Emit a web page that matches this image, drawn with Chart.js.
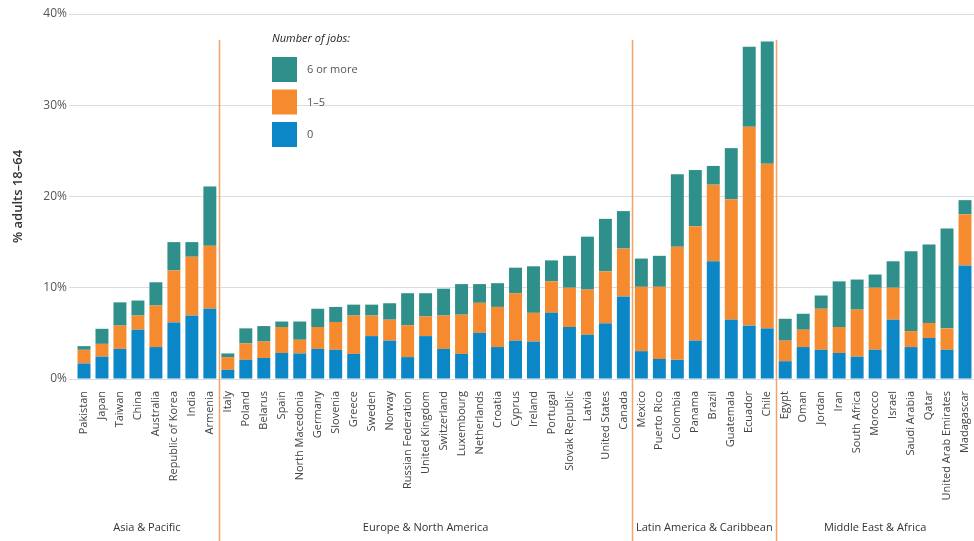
<!DOCTYPE html>
<html>
<head>
<meta charset="utf-8">
<script src="https://cdn.jsdelivr.net/npm/chart.js@4"></script>
<style>
  html, body { margin: 0; padding: 0; background: #fff; }
  #wrap { width: 974px; height: 541px; position: relative; }
</style>
</head>
<body>
<div id="wrap"><canvas id="jobsChart"></canvas></div>
<script>
const countries = [
  "Pakistan", "Japan", "Taiwan", "China", "Australia", "Republic of Korea", "India", "Armenia",
  "Italy", "Poland", "Belarus", "Spain", "North Macedonia", "Germany", "Slovenia", "Greece",
  "Sweden", "Norway", "Russian Federation", "United Kingdom", "Switzerland", "Luxembourg",
  "Netherlands", "Croatia", "Cyprus", "Ireland", "Portugal", "Slovak Republic", "Latvia",
  "United States", "Canada",
  "Mexico", "Puerto Rico", "Colombia", "Panama", "Brazil", "Guatemala", "Ecuador", "Chile",
  "Egypt", "Oman", "Jordan", "Iran", "South Africa", "Morocco", "Israel", "Saudi Arabia",
  "Qatar", "United Arab Emirates", "Madagascar"
];

// segment heights, % of adults 18-64
const jobsZero = [
  1.7, 2.45, 3.3, 5.4, 3.5, 6.2, 6.95, 7.7,
  1.0, 2.1, 2.3, 2.85, 2.8, 3.3, 3.2, 2.75, 4.7, 4.2, 2.4, 4.7, 3.3, 2.75, 5.05, 3.5,
  4.2, 4.1, 7.25, 5.7, 4.85, 6.1, 9.05,
  3.05, 2.2, 2.1, 4.2, 12.9, 6.5, 5.85, 5.55,
  1.95, 3.5, 3.2, 2.85, 2.45, 3.2, 6.5, 3.5, 4.5, 3.2, 12.45
];
const jobsOneToFive = [
  1.5, 1.4, 2.55, 1.55, 4.55, 5.7, 6.45, 6.9,
  1.4, 1.8, 1.8, 2.85, 1.5, 2.4, 3.05, 4.2, 2.25, 2.3, 3.5, 2.15, 3.65, 4.3, 3.3, 4.4,
  5.2, 3.15, 3.45, 4.3, 4.95, 5.7, 5.25,
  7.05, 7.9, 12.4, 12.55, 8.4, 13.2, 21.8, 18.05,
  2.25, 1.9, 4.5, 2.85, 5.15, 6.8, 3.5, 1.75, 1.65, 2.35, 5.6
];
const jobsSixPlus = [
  0.4, 1.65, 2.55, 1.65, 2.55, 3.1, 1.6, 6.5,
  0.4, 1.65, 1.7, 0.6, 2.0, 2.0, 1.65, 1.2, 1.2, 1.8, 3.5, 2.55, 2.95, 3.35, 2.05, 2.6,
  2.8, 5.1, 2.3, 3.5, 5.8, 5.75, 4.1,
  3.1, 3.4, 7.95, 6.15, 2.05, 5.6, 8.75, 13.4,
  2.4, 1.75, 1.45, 5.0, 3.3, 1.45, 2.9, 8.75, 8.6, 10.95, 1.55
];

const regions = ["Asia & Pacific", "Europe & North America", "Latin America & Caribbean", "Middle East & Africa"];
const regionSizes = [8, 23, 8, 11];
const yTicks = [0, 10, 20, 30, 40];

const teal = "#2f8f8a";
const orange = "#f58a2f";
const blue = "#0b86c7";
const lineOrange = "#f4a466";

// orange separators, region names and the legend box
const regionPlugin = {
  id: "regions",
  afterDraw(chart) {
    const { ctx, chartArea } = chart;
    const step = (chartArea.right - chartArea.left) / countries.length;
    ctx.save();

    let start = 0;
    regions.forEach(function (name, i) {
      const end = start + regionSizes[i];
      const left = chartArea.left + start * step;
      const right = chartArea.left + end * step;
      if (i < regions.length - 1) {
        ctx.strokeStyle = lineOrange;
        ctx.lineWidth = 1.5;
        ctx.beginPath();
        ctx.moveTo(Math.round(right) + 0.5, 40);
        ctx.lineTo(Math.round(right) + 0.5, 541);
        ctx.stroke();
      }
      ctx.fillStyle = "#333";
      ctx.font = "11px 'Open Sans', sans-serif";
      ctx.textAlign = "center";
      ctx.textBaseline = "middle";
      ctx.fillText(name, (left + right) / 2, 528);
      start = end;
    });

    // legend
    const lx = 272, ly = 57;
    ctx.textAlign = "left";
    ctx.fillStyle = "#222";
    ctx.font = "italic 11px 'Open Sans', sans-serif";
    ctx.fillText("Number of jobs:", lx, 39);
    const items = [[teal, "6 or more"], [orange, "1\u20135"], [blue, "0"]];
    items.forEach(function (item, k) {
      const y = ly + k * 32.5;
      ctx.fillStyle = item[0];
      ctx.fillRect(lx, y, 25, 25);
      ctx.fillStyle = "#555";
      ctx.font = "11px 'Open Sans', sans-serif";
      ctx.fillText(item[1], lx + 35, y + 13);
    });
    ctx.restore();
  },
};

new Chart(document.getElementById("jobsChart"), {
  type: "bar",
  data: {
    labels: countries,
    datasets: [
      { label: "0", data: jobsZero, backgroundColor: blue },
      { label: "1\u20135", data: jobsOneToFive, backgroundColor: orange },
      { label: "6 or more", data: jobsSixPlus, backgroundColor: teal },
    ],
  },
  options: {
    responsive: true,
    maintainAspectRatio: false,
    animation: false,
    layout: { padding: { top: 14, right: 0, bottom: 0, left: 0 } },
    datasets: { bar: { barPercentage: 0.72, categoryPercentage: 1.0 } },
    plugins: { legend: { display: false }, tooltip: { enabled: false } },
    scales: {
      x: {
        stacked: true,
        grid: { display: false },
        border: { display: false },
        ticks: {
          autoSkip: false,
          maxRotation: 90,
          minRotation: 90,
          padding: 4,
          color: "#444",
          font: { family: "'Open Sans', sans-serif", size: 11 },
        },
        afterFit(scale) {
          scale.height = 162;
          scale.paddingLeft = 0;
          scale.paddingRight = 0;
        },
      },
      y: {
        stacked: true,
        min: 0,
        max: 40,
        afterBuildTicks(scale) { scale.ticks = yTicks.map(function (v) { return { value: v }; }); },
        grid: { color: "#dcdcdc", drawTicks: true, tickLength: 6 },
        border: { display: false },
        ticks: {
          padding: 2,
          color: "#555",
          font: { family: "'Open Sans', sans-serif", size: 12 },
          callback: (v) => v + "%",
        },
        title: {
          display: true,
          text: "% adults 18\u201364",
          color: "#333",
          padding: { top: 10, bottom: 0 },
          font: { family: "'Open Sans', sans-serif", size: 13, weight: "600" },
        },
        afterFit(scale) {
          scale.width = 75;
          scale.paddingTop = 0;
        },
      },
    },
  },
  plugins: [regionPlugin],
});
</script>
</body>
</html>
